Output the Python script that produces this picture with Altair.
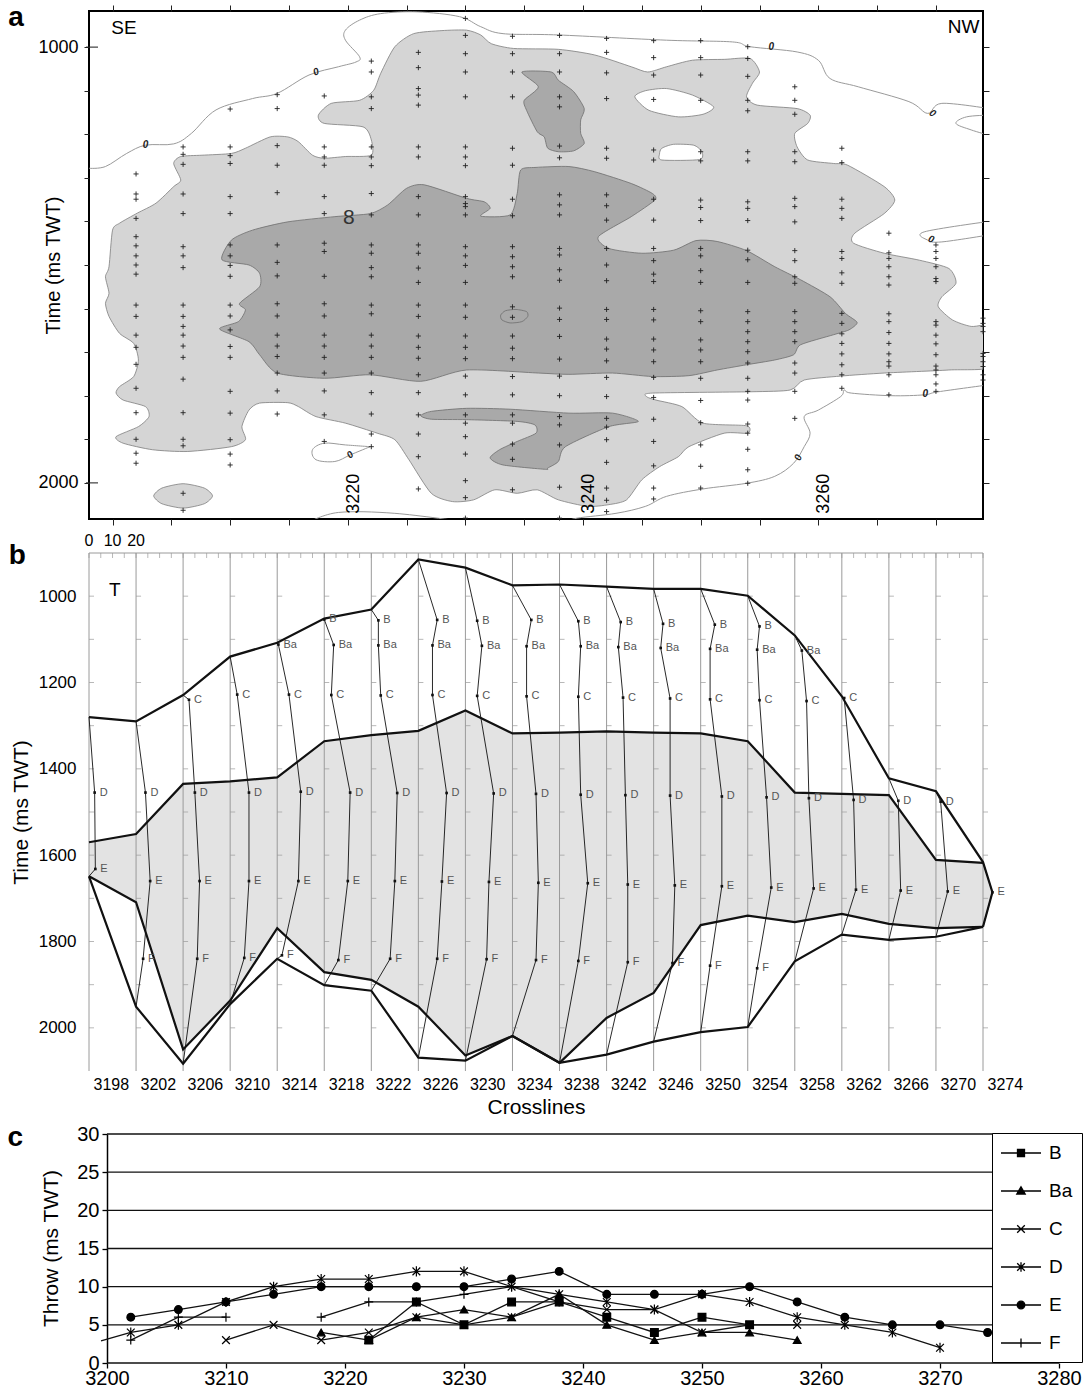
import altair as alt
import pandas as pd

FONT = "Liberation Sans, Arial, Helvetica, sans-serif"
NARROW = "Liberation Sans Narrow, Arial Narrow, Liberation Sans, sans-serif"
N = None

# ======================= shared crosslines =======================
profiles = [3198, 3202, 3206, 3210, 3214, 3218, 3222, 3226, 3230, 3234,
            3238, 3242, 3246, 3250, 3254, 3258, 3262, 3266, 3270, 3274]

# ======================= panel (a): throw contour map =======================
light_main = [
    [3222.8, 1060], [3224.0, 999], [3225.6, 969], [3228.0, 962], [3230.1, 961], [3231.3, 972],
    [3232.2, 992], [3234.1, 1003], [3237.9, 1005], [3241.0, 1018], [3244.1, 1045], [3245.5, 1057],
    [3247.1, 1045], [3249.3, 1030], [3252.0, 1028], [3254.2, 1026], [3255.0, 1057], [3254.4, 1083],
    [3253.9, 1114], [3254.8, 1133], [3258.2, 1141], [3259.3, 1156], [3259.1, 1175], [3258.0, 1198],
    [3258.2, 1229], [3259.1, 1259], [3261.3, 1267], [3262.5, 1271], [3265.6, 1320], [3266.5, 1351],
    [3265.6, 1382], [3263.1, 1427], [3263.0, 1450], [3265.6, 1473], [3268.6, 1489], [3271.1, 1508],
    [3271.7, 1542], [3270.5, 1573], [3270.2, 1596], [3271.4, 1626], [3273.0, 1641], [3275.0, 1641],
    [3275.0, 1732], [3271.1, 1741], [3265.6, 1748], [3261.9, 1755], [3258.8, 1764], [3257.6, 1787],
    [3254.2, 1791], [3245.9, 1794], [3245.4, 1802], [3246.2, 1810], [3248.4, 1825], [3250.2, 1863],
    [3253.9, 1869], [3254.0, 1886], [3252.0, 1886], [3249.0, 1917], [3248.1, 1940], [3246.5, 1963],
    [3245.0, 1993], [3243.7, 2039], [3242.2, 2050], [3240.4, 2054], [3237.9, 2039], [3236.1, 2016],
    [3234.4, 2024], [3232.5, 2016], [3230.7, 2039], [3228.9, 2043], [3227.1, 2024], [3225.2, 1947],
    [3224.0, 1901], [3222.5, 1886], [3219.8, 1863], [3217.3, 1848], [3215.8, 1825], [3214.9, 1816],
    [3212.5, 1817], [3211.6, 1833], [3211.0, 1871], [3211.3, 1901], [3210.1, 1917], [3206.4, 1928],
    [3203.4, 1924], [3200.9, 1909], [3200.3, 1894], [3202.2, 1871], [3203.1, 1848], [3202.8, 1825],
    [3200.9, 1810], [3200.3, 1794], [3200.6, 1779], [3201.8, 1756], [3202.2, 1718], [3201.8, 1680],
    [3200.6, 1657], [3199.7, 1618], [3199.4, 1588], [3199.7, 1565], [3199.4, 1527], [3199.7, 1504],
    [3200.0, 1420], [3200.6, 1404], [3202.1, 1381], [3203.7, 1358], [3205.2, 1320], [3205.8, 1305],
    [3205.2, 1267], [3205.8, 1251], [3207.6, 1248], [3210.1, 1244], [3211.3, 1232], [3213.4, 1206],
    [3214.9, 1206], [3215.8, 1217], [3217.0, 1248], [3218.0, 1255], [3219.8, 1251], [3222.0, 1248],
    [3222.0, 1213], [3221.3, 1183], [3218.0, 1175], [3217.5, 1156], [3218.6, 1129], [3221.0, 1122],
    [3222.2, 1099]]
light_small = [[3203.5, 2030], [3204.2, 2012], [3206.0, 2002], [3207.8, 2012], [3208.5, 2030],
               [3207.8, 2048], [3206.0, 2058], [3204.2, 2048]]
hole_upper = [[3244.4, 1114], [3245.3, 1100], [3247.1, 1095], [3249.3, 1110], [3251.1, 1137],
              [3250.2, 1154], [3248.1, 1160], [3245.6, 1145]]
hole_lower = [[3246.7, 1232], [3247.7, 1223], [3249.4, 1225], [3250.1, 1240], [3249.9, 1258],
              [3246.7, 1259], [3246.5, 1245]]
dark_main = [
    [3209.3, 1488], [3210.1, 1443], [3211.9, 1420], [3214.9, 1401], [3218.9, 1389], [3221.9, 1382],
    [3223.4, 1362], [3225.0, 1324], [3226.5, 1316], [3230.1, 1347], [3231.6, 1355], [3232.1, 1370],
    [3231.3, 1388], [3233.8, 1385], [3234.4, 1336], [3234.7, 1282], [3236.0, 1276], [3238.8, 1274],
    [3241.0, 1286], [3244.1, 1313], [3245.9, 1336], [3246.1, 1351], [3244.1, 1389], [3241.3, 1435],
    [3242.2, 1462], [3245.0, 1473], [3247.7, 1466], [3249.6, 1444], [3251.4, 1446], [3253.9, 1467],
    [3256.3, 1504], [3258.5, 1534], [3261.0, 1573], [3262.3, 1611], [3263.3, 1632], [3262.6, 1649],
    [3261.3, 1660], [3258.5, 1683], [3257.9, 1706], [3256.3, 1718], [3253.9, 1729], [3251.4, 1741],
    [3249.0, 1754], [3245.9, 1756], [3242.5, 1748], [3238.8, 1751], [3236.2, 1748], [3230.1, 1741],
    [3226.2, 1767], [3221.9, 1752], [3218.0, 1760], [3214.0, 1748], [3212.5, 1706], [3211.6, 1676],
    [3209.1, 1647], [3210.7, 1630], [3211.3, 1603], [3210.8, 1588], [3212.5, 1550], [3212.5, 1519],
    [3211.6, 1500]]
dark_upper = [[3234.8, 1057], [3237.3, 1057], [3237.9, 1076], [3239.2, 1102], [3240.1, 1141],
              [3239.8, 1167], [3239.8, 1198], [3240.1, 1221], [3239.2, 1238], [3237.9, 1240],
              [3237.0, 1232], [3236.7, 1206], [3236.1, 1194], [3235.2, 1145], [3235.0, 1122],
              [3236.2, 1091]]
dark_lower = [[3226.2, 1846], [3227.1, 1836], [3230.1, 1829], [3233.8, 1831], [3238.8, 1840],
              [3242.5, 1840], [3244.7, 1859], [3242.2, 1871], [3238.5, 1917], [3237.9, 1951],
              [3237.0, 1966], [3236.8, 1969], [3233.2, 1959], [3232.1, 1943], [3232.9, 1924],
              [3234.4, 1905], [3236.0, 1886], [3235.9, 1867], [3234.4, 1859], [3230.1, 1855],
              [3227.1, 1854]]
dark_blob = [[3233.0, 1615], [3233.4, 1605], [3234.3, 1602], [3235.2, 1607], [3235.3, 1618],
             [3234.8, 1630], [3233.8, 1633], [3233.1, 1626]]

zero_line_top = [
    [3198.0, 1278], [3199.4, 1274], [3201.2, 1244], [3202.8, 1225], [3205.2, 1222], [3206.7, 1198],
    [3208.8, 1144], [3211.9, 1118], [3214.0, 1106], [3216.7, 1064], [3219.2, 1045], [3220.7, 1034],
    [3221.0, 1022], [3219.8, 984], [3219.8, 961], [3221.0, 938], [3222.8, 923], [3225.9, 919],
    [3229.5, 930], [3231.3, 953], [3233.2, 969], [3237.9, 972], [3247.1, 984], [3252.7, 988],
    [3254.2, 999], [3258.2, 1011], [3260.0, 1030], [3261.0, 1072], [3263.4, 1091], [3267.7, 1125],
    [3269.3, 1152], [3270.5, 1129], [3274.5, 1141]]
zero_line_edge1 = [[3274.5, 1156], [3272.6, 1160], [3271.7, 1175], [3273.0, 1190], [3274.5, 1202]]
zero_line_edge2 = [[3274.5, 1400], [3269.0, 1424], [3269.3, 1443], [3270.5, 1447], [3274.5, 1431]]
zero_line_right = [
    [3274.5, 1775], [3270.2, 1791], [3269.0, 1798], [3266.2, 1800], [3262.8, 1794], [3262.2, 1787],
    [3261.9, 1802], [3260.0, 1833], [3258.8, 1848], [3259.3, 1886], [3258.8, 1917], [3257.9, 1955],
    [3256.3, 1985], [3253.9, 2001], [3250.2, 2014], [3247.1, 2031], [3245.3, 2054], [3242.8, 2070],
    [3239.5, 2081], [3238.5, 2090]]
zero_line_loop = [[3221.9, 1917], [3219.8, 1913], [3218.0, 1909], [3217.0, 1924], [3217.3, 1947],
                  [3218.9, 1951], [3220.2, 1936], [3221.9, 1917]]
zero_line_bottom = [[3216.7, 2090], [3219.2, 2068], [3224.0, 2070], [3230.1, 2090]]

zero_label_c = [3202.8, 3217.3, 3256.0, 3269.7, 3269.6, 3269.1, 3258.3, 3220.2]
zero_label_t = [1225, 1057, 999, 1152, 1441, 1796, 1942, 1936]
zero_label_angle = [0, 340, 0, 35, 20, 0, 290, 320]

plus_times = {
    3202: [1291, 1337, 1349, 1393, 1435, 1456, 1479, 1500, 1521, 1592, 1618, 1661, 1689, 1728, 1783, 1839, 1900, 1932, 1955],
    3206: [1229, 1246, 1269, 1337, 1382, 1458, 1479, 1506, 1592, 1618, 1641, 1661, 1686, 1712, 1762, 1839, 1900, 1915, 2024, 2063],
    3210: [1142, 1229, 1249, 1267, 1343, 1382, 1454, 1479, 1501, 1526, 1592, 1617, 1649, 1687, 1712, 1790, 1840, 1901, 1934, 1959],
    3214: [1109, 1141, 1226, 1271, 1334, 1454, 1494, 1525, 1589, 1617, 1661, 1686, 1710, 1748, 1789, 1842],
    3218: [1112, 1229, 1252, 1271, 1343, 1382, 1450, 1469, 1526, 1589, 1617, 1661, 1686, 1712, 1748, 1789, 1844, 1905],
    3222: [1032, 1057, 1114, 1141, 1229, 1252, 1272, 1336, 1385, 1454, 1473, 1506, 1527, 1592, 1612, 1661, 1686, 1712, 1748, 1793, 1842, 1888, 1917],
    3226: [1012, 1047, 1095, 1110, 1133, 1229, 1252, 1343, 1385, 1454, 1473, 1507, 1540, 1592, 1618, 1663, 1689, 1714, 1752, 1793, 1844, 1888, 1940, 2014],
    3230: [934, 973, 1015, 1057, 1114, 1229, 1252, 1272, 1343, 1359, 1366, 1385, 1458, 1479, 1501, 1540, 1592, 1620, 1663, 1689, 1715, 1755, 1798, 1844, 1863, 1894, 1934, 1995, 2034, 2081],
    3234: [975, 1015, 1057, 1114, 1232, 1271, 1349, 1387, 1458, 1481, 1504, 1527, 1596, 1620, 1663, 1691, 1715, 1756, 1798, 1844, 1863, 1911, 1946, 2016],
    3238: [973, 1015, 1057, 1114, 1137, 1227, 1254, 1339, 1362, 1385, 1462, 1477, 1511, 1535, 1599, 1625, 1664, 1716, 1755, 1800, 1848, 1867, 1913, 2010, 2081],
    3242: [980, 1012, 1059, 1118, 1232, 1255, 1339, 1364, 1397, 1462, 1500, 1536, 1602, 1625, 1670, 1693, 1720, 1758, 1802, 1852, 1872, 1901, 1953, 2012, 2040, 2066],
    3246: [985, 1024, 1064, 1120, 1236, 1259, 1349, 1397, 1462, 1490, 1521, 1538, 1602, 1626, 1670, 1695, 1722, 1758, 1804, 1854, 1905, 1961, 2012, 2037],
    3250: [985, 1024, 1064, 1122, 1240, 1261, 1351, 1368, 1398, 1462, 1479, 1513, 1540, 1605, 1630, 1672, 1695, 1722, 1760, 1811, 1862, 1913, 1962, 2012],
    3254: [999, 1026, 1067, 1122, 1146, 1240, 1261, 1355, 1370, 1398, 1466, 1488, 1540, 1607, 1630, 1653, 1676, 1699, 1725, 1760, 1790, 1810, 1865, 1886, 1923, 1970, 2001],
    3258: [1091, 1122, 1154, 1240, 1263, 1347, 1366, 1401, 1467, 1490, 1527, 1542, 1607, 1630, 1653, 1676, 1725, 1748, 1790, 1852],
    3262: [1232, 1265, 1349, 1370, 1393, 1469, 1485, 1518, 1542, 1611, 1634, 1658, 1680, 1704, 1729, 1752, 1783],
    3266: [1427, 1472, 1485, 1504, 1527, 1546, 1612, 1630, 1655, 1680, 1704, 1722, 1732, 1752, 1798],
    3270: [1454, 1469, 1485, 1504, 1531, 1538, 1630, 1638, 1661, 1681, 1706, 1732, 1741, 1752, 1773, 1790],
    3274: [1622, 1634, 1641, 1653, 1703, 1710, 1722, 1733, 1752, 1764],
}
map_xlabels = [3220, 3240, 3260]
map_major_times = [1000, 2000]

# ======================= panel (b): throw profiles =======================
top_env = [1280, 1290, 1229, 1140, 1108, 1052, 1031, 915, 934, 975, 973, 978, 983, 983, 999, 1091, 1232, 1422, 1452, 1616]
upper_fill = [1570, 1551, 1435, 1429, 1420, 1336, 1322, 1312, 1265, 1318, 1316, 1313, 1316, 1318, 1336, 1455, 1458, 1461, 1611, 1618]
lower_fill = [1649, 1709, 2050, 1937, 1769, 1871, 1889, 1951, 2064, 2019, 2081, 1977, 1919, 1762, 1740, 1755, 1736, 1759, 1769, 1766]
bottom_env = [1649, 1951, 2083, 1945, 1840, 1901, 1914, 2069, 2076, 2019, 2081, 2062, 2032, 2010, 1998, 1846, 1784, 1796, 1789, 1766]

B_time = [N, N, N, N, N, 1054, 1056, 1055, 1057, 1055, 1058, 1060, 1064, 1066, 1070, N, N, N, N, N]
B_throw = [N, N, N, N, N, 0, 3, 8, 5, 8, 8, 6, 4, 6, 5, N, N, N, N, N]
Ba_time = [N, N, N, N, 1112, 1113, 1114, 1114, 1115, 1116, 1116, 1118, 1120, 1122, 1124, 1126, N, N, N, N]
Ba_throw = [N, N, N, N, 0.5, 4, 3, 6, 7, 6, 9, 5, 3, 4, 4, 3, N, N, N, N]
C_time = [N, N, 1240, 1228, 1228, 1229, 1230, 1229, 1231, 1232, 1233, 1235, 1237, 1239, 1241, 1243, 1236, N, N, N]
C_throw = [N, N, 2.5, 3, 5, 3, 4, 6, 5, 6, 8, 7, 7, 4, 5, 5, 1, N, N, N]
D_time = [1455, 1455, 1455, 1455, 1453, 1455, 1456, 1456, 1457, 1458, 1460, 1461, 1462, 1464, 1466, 1468, 1472, 1474, 1476, N]
D_throw = [2.4, 4, 5, 8, 10, 11, 11, 12, 12, 10, 9, 8, 7, 9, 8, 6, 5, 4, 2, N]
E_time = [1632, 1660, 1660, 1660, 1660, 1660, 1660, 1661, 1662, 1664, 1665, 1668, 1670, 1672, 1675, 1677, 1680, 1682, 1684, 1686]
E_throw = [2.7, 6, 7, 8, 9, 10, 10, 10, 10, 11, 12, 9, 9, 9, 10, 8, 6, 5, 5, 4]
F_time = [N, 1840, 1840, 1838, 1832, 1843, 1840, 1840, 1841, 1843, 1845, 1848, 1850, 1856, 1862, N, N, N, N, N]
F_throw = [N, 3, 6, 6, 2, 6, 8, 8, 9, 10, 8, 9, 8, 4, 4, N, N, N, N, N]
throw_scale_labels = [0, 10, 20]
CROSSLINES_PER_MS = 4 / 20  # 20 ms of throw spans one profile spacing

# ======================= panel (c): throw vs crossline =======================
c_crosslines = [3202, 3206, 3210, 3214, 3218, 3222, 3226, 3230, 3234, 3238,
                3242, 3246, 3250, 3254, 3258, 3262, 3266, 3270, 3274]
series_names = ["B", "Ba", "C", "D", "E", "F"]
throw_B = [N, N, N, N, N, 3, 8, 5, 8, 8, 6, 4, 6, 5, N, N, N, N, N]
throw_Ba = [N, N, N, N, 4, 3, 6, 7, 6, 9, 5, 3, 4, 4, 3, N, N, N, N]
throw_C = [N, N, 3, 5, 3, 4, 6, 5, 6, 8, 7, 7, 4, 5, 5, N, N, N, N]
throw_D = [4, 5, 8, 10, 11, 11, 12, 12, 10, 9, 8, 7, 9, 8, 6, 5, 4, 2, N]
throw_E = [6, 7, 8, 9, 10, 10, 10, 10, 11, 12, 9, 9, 9, 10, 8, 6, 5, 5, 4]
throw_F = [3, 6, 6, N, 6, 8, 8, 9, 10, 8, N, N, N, N, N, N, N, N, N]
D_line_lead_in = [3199.5, 2.9]   # where the D line enters the plot at the left
gridlines = [0, 5, 10, 15, 20, 25, 30]

# ---------------------------------------------------------------------------
W = 894
H_A, H_B, H_C = 508, 518, 229
BLACK = "#111111"


def poly_frame(named):
    rows = []
    for name, pts in named:
        for i, (c, t) in enumerate(pts):
            rows.append({"poly": name, "i": i, "c": c, "t": t})
    return pd.DataFrame(rows)


# ----------------------------- panel a -----------------------------
xa = alt.Scale(domain=[3198, 3274], nice=False, zero=False)
ya = alt.Scale(domain=[917, 2083], reverse=True, nice=False, zero=False)

ax_top = alt.Axis(orient="top", values=list(range(3200, 3275, 5)), labels=False, tickSize=6,
                  domain=False, grid=False, title=None, tickColor="#222")
ax_bottom = alt.Axis(orient="bottom", values=list(range(3200, 3275, 5)), labels=False, tickSize=6,
                     domain=False, grid=False, title=None, tickColor="#222")
ay_left = alt.Axis(orient="left", values=list(range(1000, 2001, 100)), format="d",
                   labelExpr="(datum.value == 1000 || datum.value == 2000) ? datum.label : ''",
                   tickSize=5, tickColor="#222", labelFontSize=18, labelPadding=6, labelColor="black",
                   domain=False, grid=False, title="Time (ms TWT)", titleFontSize=20,
                   titleFontWeight="normal", titleColor="black", titleX=-36, titleY=254,
                   titleAlign="center", titleBaseline="middle")
ay_right = alt.Axis(orient="right", values=list(range(1000, 2001, 100)), labels=False, tickSize=6,
                    tickColor="#222", domain=False, grid=False, title=None)


def poly_layer(df, fill, stroke, xaxis=None, yaxis=None):
    return alt.Chart(df).mark_line(
        fill=fill, stroke=stroke, strokeWidth=0.8, interpolate="cardinal-closed", tension=0.3, clip=True
    ).encode(
        x=alt.X("c:Q", scale=xa, axis=xaxis),
        y=alt.Y("t:Q", scale=ya, axis=yaxis),
        detail="poly:N",
        order="i:Q",
    )


light_layer = poly_layer(poly_frame([("main", light_main), ("small", light_small)]),
                         "#d5d5d5", "#7d7d7d", ax_top, ay_left)
hole_layer = poly_layer(poly_frame([("h1", hole_upper), ("h2", hole_lower)]), "white", "#7d7d7d")
dark_layer = poly_layer(poly_frame([("d1", dark_main), ("d2", dark_upper), ("d3", dark_lower),
                                    ("d4", dark_blob)]), "#a9a9a9", "#6d6d6d")

zero_df = poly_frame([("z1", zero_line_top), ("z2", zero_line_edge1), ("z3", zero_line_edge2),
                      ("z4", zero_line_right), ("z5", zero_line_loop), ("z6", zero_line_bottom)])
zero_layer = alt.Chart(zero_df).mark_line(
    color="#9a9a9a", strokeWidth=1, interpolate="cardinal", clip=True
).encode(x=alt.X("c:Q", scale=xa, axis=None), y=alt.Y("t:Q", scale=ya, axis=None),
         detail="poly:N", order="i:Q")

plus_df = pd.DataFrame([{"c": c, "t": t} for c, ts in plus_times.items() for t in ts])
plus_layer = alt.Chart(plus_df).mark_point(
    shape="M-1,0L1,0M0,-1L0,1", size=26, stroke="#222", strokeWidth=0.9, filled=False, opacity=1
).encode(x=alt.X("c:Q", scale=xa, axis=ax_bottom), y=alt.Y("t:Q", scale=ya, axis=ay_right))

major_layer = alt.Chart(pd.DataFrame({"c": profiles[0], "t": map_major_times})).mark_tick(
    orient="horizontal", size=12, thickness=1.5, color="#222", xOffset=3).encode(
    x=alt.X("c:Q", scale=xa, axis=None), y=alt.Y("t:Q", scale=ya, axis=None))

zl_df = pd.DataFrame({"c": zero_label_c, "t": zero_label_t, "ang": zero_label_angle, "txt": "0"})
zl_layer = alt.Chart(zl_df).mark_text(fontSize=10, fontWeight="bold", fontStyle="italic",
                                      color="#222").encode(
    x=alt.X("c:Q", scale=xa, axis=None), y=alt.Y("t:Q", scale=ya, axis=None),
    text="txt:N", angle=alt.Angle("ang:Q", scale=None))

eight_layer = alt.Chart(pd.DataFrame({"c": [3220.1], "t": [1393], "txt": ["8"]})).mark_text(
    fontSize=21, color="#333").encode(x=alt.X("c:Q", scale=xa, axis=None),
                                      y=alt.Y("t:Q", scale=ya, axis=None), text="txt:N")

mxl_df = pd.DataFrame({"c": map_xlabels, "t": [2025] * len(map_xlabels)})
mxl_layer = alt.Chart(mxl_df).mark_text(angle=270, fontSize=18, color="black", dy=6).encode(
    x=alt.X("c:Q", scale=xa, axis=None), y=alt.Y("t:Q", scale=ya, axis=None), text="c:Q")

dir_df = pd.DataFrame({"c": [3199.9, 3273.7], "t": [956, 953], "txt": ["SE", "NW"]})
se_layer = alt.Chart(dir_df.iloc[[0]]).mark_text(fontSize=19, align="left", color="black").encode(
    x=alt.X("c:Q", scale=xa, axis=None), y=alt.Y("t:Q", scale=ya, axis=None), text="txt:N")
nw_layer = alt.Chart(dir_df.iloc[[1]]).mark_text(fontSize=19, align="right", color="black").encode(
    x=alt.X("c:Q", scale=xa, axis=None), y=alt.Y("t:Q", scale=ya, axis=None), text="txt:N")

letter_a = alt.Chart(pd.DataFrame({"c": [3191.8], "t": [933], "txt": ["a"]})).mark_text(
    fontSize=28, fontWeight="bold", color="black").encode(
    x=alt.X("c:Q", scale=xa, axis=None), y=alt.Y("t:Q", scale=ya, axis=None), text="txt:N")

panel_a = alt.layer(
    light_layer, hole_layer, dark_layer, zero_layer, plus_layer, major_layer, zl_layer,
    eight_layer, mxl_layer, se_layer, nw_layer, letter_a
).resolve_axis(x="independent", y="independent").properties(
    width=W, height=H_A, view=alt.ViewBackground(stroke="black", strokeWidth=2))

# ----------------------------- panel b -----------------------------
xb = alt.Scale(domain=[3198, 3274], nice=False, zero=False)
yb = alt.Scale(domain=[900, 2100], reverse=True, nice=False, zero=False)
Y_TOP, Y_BOT = 900, 2100

# shaded band: upper boundary left->right, round the last profile, lower boundary back
fill_pts = [[c, t] for c, t in zip(profiles, upper_fill)]
fill_pts.append([profiles[-1] + E_throw[-1] * CROSSLINES_PER_MS, E_time[-1]])
fill_pts += [[c, t] for c, t in zip(profiles[::-1], lower_fill[::-1])]
fill_layer = alt.Chart(poly_frame([("band", fill_pts)])).mark_line(
    fill="#e3e3e3", stroke="#e3e3e3", strokeWidth=0.5, interpolate="linear-closed").encode(
    x=alt.X("c:Q", scale=xb, axis=None), y=alt.Y("t:Q", scale=yb, axis=None),
    detail="poly:N", order="i:Q")

vr_df = pd.DataFrame({"c": profiles, "t0": Y_TOP, "t1": Y_BOT})
vr_layer = alt.Chart(vr_df).mark_rule(color="#9a9a9a", strokeWidth=1).encode(
    x=alt.X("c:Q", scale=xb, axis=alt.Axis(
        values=profiles, format="d", labelAlign="left", labelOffset=4, labelPadding=5,
        labelFontSize=16, labelColor="black", domain=False, ticks=False, grid=False,
        labelFlush=False, labelOverlap=False, title="Crosslines", titleFontSize=21,
        titleFontWeight="normal", titlePadding=4, titleColor="black")),
    y=alt.Y("t0:Q", scale=yb, axis=alt.Axis(
        values=[1000, 1200, 1400, 1600, 1800, 2000], format="d", domain=False, ticks=False,
        grid=False, labelFont=NARROW, labelFontSize=17, labelPadding=13, labelColor="black",
        title="Time (ms TWT)", titleFontSize=21, titleFontWeight="normal", titleColor="black",
        titleX=-68, titleY=259, titleAlign="center", titleBaseline="middle")),
    y2="t1:Q")

topline_layer = alt.Chart(pd.DataFrame({"c0": [profiles[0]], "c1": [profiles[-1]], "t": [Y_TOP]})).mark_rule(
    color="#9a9a9a", strokeWidth=1).encode(
    x=alt.X("c0:Q", scale=xb, axis=None), x2="c1:Q", y=alt.Y("t:Q", scale=yb, axis=None))

minor_cl = list(range(profiles[0], profiles[-1] + 1))
toptick_layer = alt.Chart(pd.DataFrame({"c": minor_cl, "t": Y_TOP})).mark_tick(
    orient="vertical", size=5, thickness=1, color="#9a9a9a", yOffset=2.5).encode(
    x=alt.X("c:Q", scale=xb, axis=None), y=alt.Y("t:Q", scale=yb, axis=None))

tick_df = pd.DataFrame([{"c": c, "t": t} for c in profiles for t in range(1000, 2001, 100)])
linetick_layer = alt.Chart(tick_df).mark_tick(
    orient="horizontal", size=5, thickness=1, color="#9a9a9a", xOffset=2.5).encode(
    x=alt.X("c:Q", scale=xb, axis=None), y=alt.Y("t:Q", scale=yb, axis=None))

# bold boundary lines
bold_rows = []
for name, vals in [("top", top_env), ("upper", upper_fill), ("lower", lower_fill), ("bottom", bottom_env)]:
    for i, (c, t) in enumerate(zip(profiles, vals)):
        bold_rows.append({"line": name, "i": i, "c": c, "t": t})
# top envelope continues down the last (E-only) profile
bold_rows.append({"line": "top", "i": 20, "c": profiles[-1] + E_throw[-1] * CROSSLINES_PER_MS, "t": E_time[-1]})
bold_rows.append({"line": "top", "i": 21, "c": profiles[-1], "t": bottom_env[-1]})
bold_layer = alt.Chart(pd.DataFrame(bold_rows)).mark_line(color=BLACK, strokeWidth=2.2).encode(
    x=alt.X("c:Q", scale=xb, axis=None), y=alt.Y("t:Q", scale=yb, axis=None),
    detail="line:N", order="i:Q")

horizons = [("B", B_time, B_throw), ("Ba", Ba_time, Ba_throw), ("C", C_time, C_throw),
            ("D", D_time, D_throw), ("E", E_time, E_throw), ("F", F_time, F_throw)]
prof_rows, lab_rows = [], []
for k, cl in enumerate(profiles):
    prof_rows.append({"profile": cl, "t": top_env[k], "throw": 0})
    for h, times, throws in horizons:
        if times[k] is not None and throws[k] is not None:
            prof_rows.append({"profile": cl, "t": times[k], "throw": throws[k]})
            lab_rows.append({"profile": cl, "t": times[k], "throw": throws[k], "h": h})
    prof_rows.append({"profile": cl, "t": bottom_env[k], "throw": 0})
prof_df = pd.DataFrame(prof_rows)
lab_df = pd.DataFrame(lab_rows)
calc = f"datum.profile + datum.throw * {CROSSLINES_PER_MS}"

prof_layer = alt.Chart(prof_df).transform_calculate(px=calc).mark_line(
    color=BLACK, strokeWidth=0.9).encode(
    x=alt.X("px:Q", scale=xb, axis=None), y=alt.Y("t:Q", scale=yb, axis=None),
    detail="profile:N", order="t:Q")
dot_layer = alt.Chart(lab_df).transform_calculate(px=calc).mark_square(
    size=7, color=BLACK, opacity=1).encode(
    x=alt.X("px:Q", scale=xb, axis=None), y=alt.Y("t:Q", scale=yb, axis=None))
hlab_layer = alt.Chart(lab_df).transform_calculate(px=calc).mark_text(
    align="left", dx=5, fontSize=11, color="#555").encode(
    x=alt.X("px:Q", scale=xb, axis=None), y=alt.Y("t:Q", scale=yb, axis=None), text="h:N")

t_layer = alt.Chart(pd.DataFrame({"c": [3200.2], "t": [985], "txt": ["T"]})).mark_text(
    fontSize=19, color="black").encode(
    x=alt.X("c:Q", scale=xb, axis=None), y=alt.Y("t:Q", scale=yb, axis=None), text="txt:N")

scale_df = pd.DataFrame({"v": throw_scale_labels, "t": 872})
scale_layer = alt.Chart(scale_df).transform_calculate(
    px=f"{profiles[0]} + datum.v * {CROSSLINES_PER_MS}").mark_text(
    fontSize=16, font=NARROW, color="black").encode(
    x=alt.X("px:Q", scale=xb, axis=None), y=alt.Y("t:Q", scale=yb, axis=None), text="v:Q")

letter_b = alt.Chart(pd.DataFrame({"c": [3191.9], "t": [906], "txt": ["b"]})).mark_text(
    fontSize=28, fontWeight="bold", color="black").encode(
    x=alt.X("c:Q", scale=xb, axis=None), y=alt.Y("t:Q", scale=yb, axis=None), text="txt:N")

panel_b = alt.layer(
    fill_layer, vr_layer, topline_layer, toptick_layer, linetick_layer, bold_layer, prof_layer,
    dot_layer, hlab_layer, t_layer, scale_layer, letter_b
).resolve_axis(x="independent", y="independent").properties(width=W, height=H_B)

# ----------------------------- panel c -----------------------------
xc = alt.Scale(domain=[3198.49, 3280], nice=False, zero=False)
yc = alt.Scale(domain=[0, 30], nice=False, zero=True)

line_rows, pt_rows = [], []
for name, vals in zip(series_names, [throw_B, throw_Ba, throw_C, throw_D, throw_E, throw_F]):
    seg = 0
    if name == "D":
        line_rows.append({"series": name, "seg": f"{name}0", "x": D_line_lead_in[0], "y": D_line_lead_in[1]})
    for cl, v in zip(c_crosslines, vals):
        if v is None:
            seg += 1
            continue
        line_rows.append({"series": name, "seg": f"{name}{seg}", "x": cl, "y": v})
        pt_rows.append({"series": name, "x": cl, "y": v})
line_df = pd.DataFrame(line_rows)
pt_df = pd.DataFrame(pt_rows)

grid_df = pd.DataFrame({"g": gridlines, "x0": 3200, "x1": 3280})
grid_layer = alt.Chart(grid_df).mark_rule(color=BLACK, strokeWidth=1.3).encode(
    x=alt.X("x0:Q", scale=xc, axis=alt.Axis(
        values=list(range(3200, 3281, 10)), format="d", tickSize=5, tickColor="black",
        tickWidth=1.3, domain=False, grid=False, labelFontSize=20, labelPadding=0,
        labelColor="black", labelFlush=False, title=None)),
    x2="x1:Q",
    y=alt.Y("g:Q", scale=yc, axis=alt.Axis(
        values=gridlines, offset=-18, domain=True, domainColor="black", domainWidth=1.5,
        tickSize=5, tickColor="black", tickWidth=1.3, grid=False, labelFontSize=20,
        labelPadding=3, labelColor="black", title="Throw (ms TWT)", titleFontSize=21,
        titleFontWeight="normal", titleColor="black", titleX=-56, titleY=114,
        titleAlign="center", titleBaseline="middle")))

lines_layer = alt.Chart(line_df).mark_line(color=BLACK, strokeWidth=1.3, clip=True).encode(
    x=alt.X("x:Q", scale=xc, axis=None), y=alt.Y("y:Q", scale=yc, axis=None),
    detail="seg:N", order="x:Q")

marker_shapes = ["square", "triangle-up", "M-1,-1L1,1M-1,1L1,-1",
                 "M-1,-1L1,1M-1,1L1,-1M0,-1.3L0,1.3", "circle", "M-1.15,0L1.15,0M0,-1.15L0,1.15"]
legend_shapes = [
    "M-2,0L2,0M-0.35,-0.35L0.35,-0.35L0.35,0.35L-0.35,0.35Z",
    "M-2,0L2,0M0,-0.42L0.42,0.3L-0.42,0.3Z",
    "M-2,0L2,0M-0.38,-0.38L0.38,0.38M-0.38,0.38L0.38,-0.38",
    "M-2,0L2,0M-0.38,-0.38L0.38,0.38M-0.38,0.38L0.38,-0.38M0,-0.48L0,0.48",
    "M-2,0L2,0M0.38,0A0.38,0.38 0 1,1 -0.38,0A0.38,0.38 0 1,1 0.38,0Z",
    "M-2,0L2,0M0,-0.45L0,0.45",
]

points_layer = alt.Chart(pt_df).mark_point(
    filled=True, color="black", stroke="black", strokeWidth=1.2, size=60, opacity=1).encode(
    x=alt.X("x:Q", scale=xc, axis=None), y=alt.Y("y:Q", scale=yc, axis=None),
    shape=alt.Shape("series:N", scale=alt.Scale(domain=series_names, range=marker_shapes), legend=None))

legend_layer = alt.Chart(pt_df).transform_filter("datum.y < -100").mark_point(
    filled=True, color="black", stroke="black", strokeWidth=1.3, opacity=1).encode(
    x=alt.X("x:Q", scale=xc, axis=None), y=alt.Y("y:Q", scale=yc, axis=None),
    shape=alt.Shape("series:N", scale=alt.Scale(domain=series_names, range=legend_shapes),
                    legend=alt.Legend(orient="none", legendX=903, legendY=-1, title=None,
                                      labelFontSize=19, labelColor="black", symbolSize=400,
                                      symbolStrokeWidth=1.3, symbolOpacity=1, symbolOffset=9,
                                      labelOffset=17, rowPadding=17, padding=9,
                                      strokeColor="black", fillColor="white")))

letter_c = alt.Chart(pd.DataFrame({"x": [3192.3], "y": [29.5], "txt": ["c"]})).mark_text(
    fontSize=28, fontWeight="bold", color="black").encode(
    x=alt.X("x:Q", scale=xc, axis=None), y=alt.Y("y:Q", scale=yc, axis=None), text="txt:N")

panel_c = alt.layer(grid_layer, lines_layer, points_layer, legend_layer, letter_c).resolve_scale(
    shape="independent").resolve_axis(x="independent", y="independent").properties(
    width=970, height=H_C)

chart = alt.vconcat(panel_a, panel_b, panel_c, spacing=5).properties(
    padding={"left": 7, "top": 2, "right": 0, "bottom": 0}
).configure(font=FONT).configure_view(stroke="transparent").configure_axis(
    labelFont=FONT, titleFont=FONT)

chart.save("out.html", embed_options={"renderer": "svg", "actions": False})
